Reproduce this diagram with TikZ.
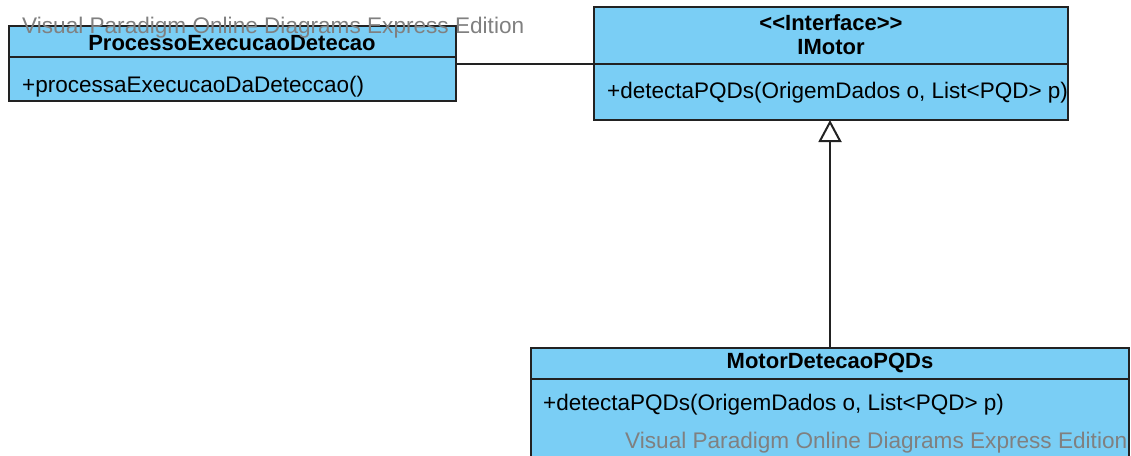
\documentclass[tikz,border=0pt]{standalone}
\usepackage{fontspec}
\setmainfont{Liberation Sans}
\usetikzlibrary{arrows.meta}
\definecolor{classfill}{RGB}{122,206,245}
\definecolor{classline}{RGB}{34,34,34}
\definecolor{wmgray}{RGB}{128,128,128}
\tikzset{
  compart/.style={draw=classline, line width=2pt, fill=classfill, anchor=north west,
    inner sep=0pt, outer sep=0pt},
  classtitle/.style={font=\fontsize{22}{24}\selectfont\bfseries, inner sep=0pt, align=center},
  member/.style={font=\fontsize{22.5}{24}\selectfont, inner sep=0pt, anchor=west},
  watermark/.style={font=\fontsize{22.6}{24}\selectfont, text=wmgray, inner sep=0pt, anchor=west},
  assoc/.style={draw=classline, line width=2pt},
  realize/.style={draw=classline, line width=2pt, -{Triangle[open, length=22pt, width=23pt, line width=2pt]}},
}
\begin{document}
\begin{tikzpicture}[x=1pt, y=-1pt]
\useasboundingbox (0,0) rectangle (1131,455);

% ProcessoExecucaoDetecao
\node[compart, minimum width=447pt, minimum height=31pt] (phead) at (9,26) {};
\node[compart, minimum width=447pt, minimum height=44pt] (pbody) at (9,57) {};
\node[classtitle] (ptitle) at (232,43) {ProcessoExecucaoDetecao};
\node[member] (pop) at (22,87) {+processaExecucaoDaDeteccao()};

% IMotor
\node[compart, minimum width=474pt, minimum height=57pt] (ihead) at (594,7) {};
\node[compart, minimum width=474pt, minimum height=56pt] (ibody) at (594,64) {};
\node[classtitle] (ititle) at (831,35) {{<}{<}Interface{>}{>}\\IMotor};
\node[member] (iop) at (607,93) {+detectaPQDs(OrigemDados o, List<PQD> p)};

% MotorDetecaoPQDs
\node[compart, minimum width=598pt, minimum height=31pt] (mhead) at (531,348) {};
\node[compart, minimum width=598pt, minimum height=120pt] (mbody) at (531,379) {};
\node[classtitle] (mtitle) at (830,363) {MotorDetecaoPQDs};
\node[member] (mop) at (543,405) {+detectaPQDs(OrigemDados o, List<PQD> p)};

% association and realization
\draw[assoc] (ihead.south west) -- (ihead.south west -| pbody.east);
\draw[realize] (mhead.north) -- (mhead.north |- ibody.south);

% editor watermarks
\node[watermark] (wmtop) at (22,28) {Visual Paradigm Online Diagrams Express Edition};
\node[watermark] (wmbot) at (625,443) {Visual Paradigm Online Diagrams Express Edition};
\end{tikzpicture}
\end{document}
